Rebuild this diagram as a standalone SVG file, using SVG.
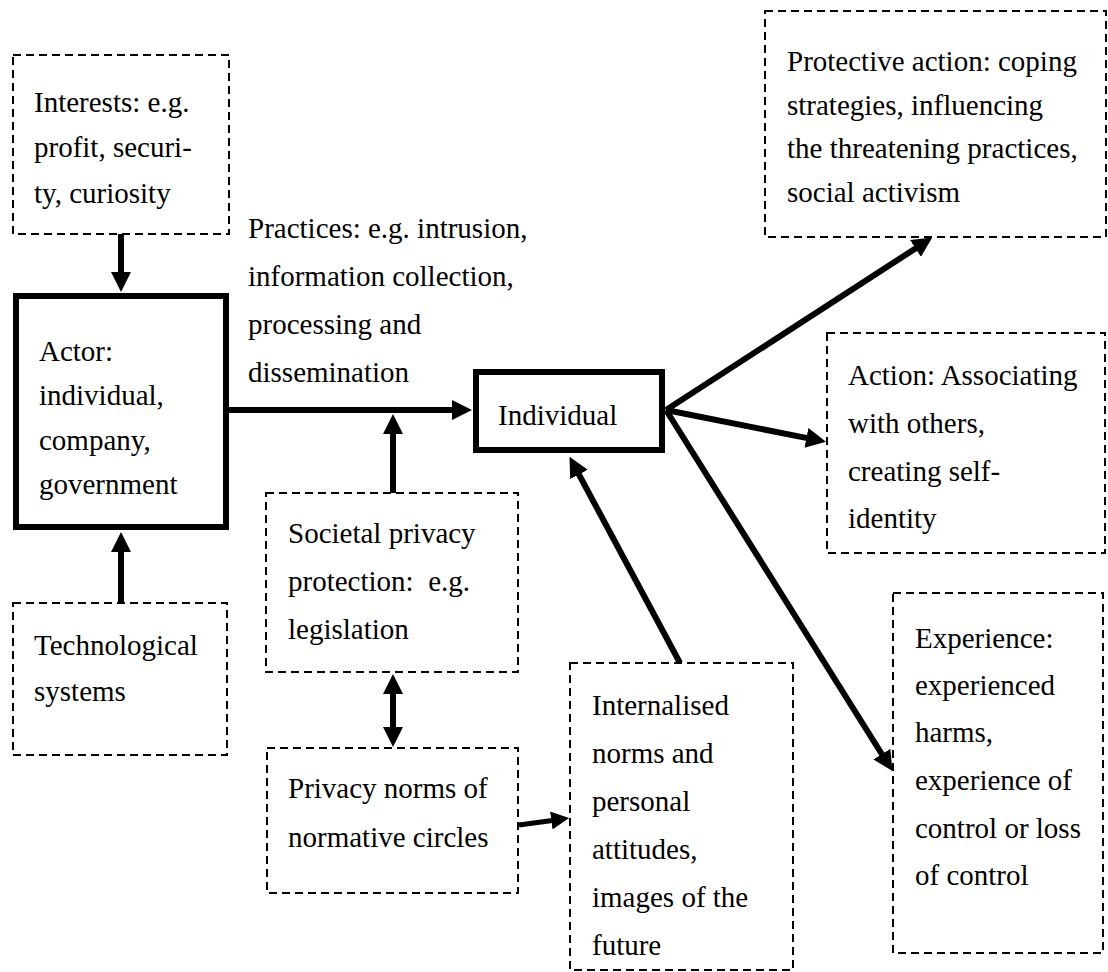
<svg xmlns="http://www.w3.org/2000/svg" width="1108" height="972" viewBox="0 0 1108 972">
  <style>
    text { font-family: "Liberation Serif", "Times New Roman", serif; font-size: 29px; fill: #000; }
    .dash { fill: #fff; stroke: #000; stroke-width: 2; stroke-dasharray: 8 5; }
    .solid { fill: #fff; stroke: #000; stroke-width: 6; }
    .conn { stroke: #000; stroke-width: 6; fill: none; }
    .thin { stroke-width: 5; }
  </style>
  <defs>
    <marker id="head" viewBox="0 0 20 20" markerUnits="userSpaceOnUse" markerWidth="20" markerHeight="20" refX="1" refY="10" orient="auto-start-reverse">
      <path d="M0,0 L20,10 L0,20 z" fill="#000"/>
    </marker>
    <marker id="headSmall" viewBox="0 0 20 20" markerUnits="userSpaceOnUse" markerWidth="18" markerHeight="18" refX="1" refY="10" orient="auto">
      <path d="M0,0 L20,10 L0,20 z" fill="#000"/>
    </marker>
  </defs>

  <rect width="1108" height="972" fill="#fff"/>

  <!-- connectors -->
  <g id="connectors">
    <line class="conn" x1="121" y1="234" x2="121" y2="273" marker-end="url(#head)"/>
    <line class="conn" x1="121" y1="603" x2="121" y2="551" marker-end="url(#head)"/>
    <line class="conn" x1="229" y1="410" x2="453" y2="410" marker-end="url(#head)"/>
    <line class="conn" x1="393" y1="493" x2="393" y2="433" marker-end="url(#head)"/>
    <line class="conn" x1="393" y1="693" x2="393" y2="728" marker-start="url(#head)" marker-end="url(#head)"/>
    <line class="conn thin" x1="519" y1="825" x2="552.2" y2="820.4" marker-end="url(#headSmall)"/>
    <line class="conn" x1="680" y1="663" x2="578.5" y2="473.6" marker-end="url(#head)"/>
    <line class="conn" x1="666" y1="410" x2="916.3" y2="247.9" marker-end="url(#head)"/>
    <line class="conn" x1="666" y1="410" x2="807.4" y2="438.1" marker-end="url(#head)"/>
    <line class="conn" x1="666" y1="410" x2="882.4" y2="755" marker-end="url(#head)"/>
  </g>

  <g id="interests">
    <rect class="dash" x="13" y="55" width="216" height="179"/>
    <text x="34" y="112">Interests: e.g.</text>
    <text x="34" y="157">profit, securi-</text>
    <text x="34" y="203">ty, curiosity</text>
  </g>

  <g id="actor">
    <rect class="solid" x="16" y="296" width="210" height="231"/>
    <text x="39" y="361">Actor:</text>
    <text x="39" y="405">individual,</text>
    <text x="39" y="450">company,</text>
    <text x="39" y="494">government</text>
  </g>

  <g id="technological">
    <rect class="dash" x="13" y="603" width="214" height="152"/>
    <text x="34" y="655">Technological</text>
    <text x="34" y="701">systems</text>
  </g>

  <g id="practices">
    <text x="248" y="238">Practices: e.g. intrusion,</text>
    <text x="248" y="286">information collection,</text>
    <text x="248" y="334">processing and</text>
    <text x="248" y="382">dissemination</text>
  </g>

  <g id="individual">
    <rect class="solid" x="476" y="372" width="186" height="78"/>
    <text x="498" y="425">Individual</text>
  </g>

  <g id="societal">
    <rect class="dash" x="266" y="493" width="252" height="179"/>
    <text x="288" y="543" xml:space="preserve">Societal privacy</text>
    <text x="288" y="591" xml:space="preserve">protection:  e.g.</text>
    <text x="288" y="639">legislation</text>
  </g>

  <g id="norms">
    <rect class="dash" x="267" y="748" width="251" height="145"/>
    <text x="288" y="798">Privacy norms of</text>
    <text x="288" y="847">normative circles</text>
  </g>

  <g id="internalised">
    <rect class="dash" x="570" y="663" width="223" height="307"/>
    <text x="592" y="715">Internalised</text>
    <text x="592" y="763">norms and</text>
    <text x="592" y="811">personal</text>
    <text x="592" y="859">attitudes,</text>
    <text x="592" y="907">images of the</text>
    <text x="592" y="955">future</text>
  </g>

  <g id="protective">
    <rect class="dash" x="765" y="11" width="341" height="226"/>
    <text x="787" y="71">Protective action: coping</text>
    <text x="787" y="115">strategies, influencing</text>
    <text x="787" y="158">the threatening practices,</text>
    <text x="787" y="202">social activism</text>
  </g>

  <g id="action">
    <rect class="dash" x="827" y="333" width="278" height="220"/>
    <text x="848" y="385">Action: Associating</text>
    <text x="848" y="433">with others,</text>
    <text x="848" y="481">creating self-</text>
    <text x="848" y="528">identity</text>
  </g>

  <g id="experience">
    <rect class="dash" x="893" y="593" width="210" height="360"/>
    <text x="915" y="648">Experience:</text>
    <text x="915" y="695">experienced</text>
    <text x="915" y="742">harms,</text>
    <text x="915" y="790">experience of</text>
    <text x="915" y="838">control or loss</text>
    <text x="915" y="885">of control</text>
  </g>
</svg>
